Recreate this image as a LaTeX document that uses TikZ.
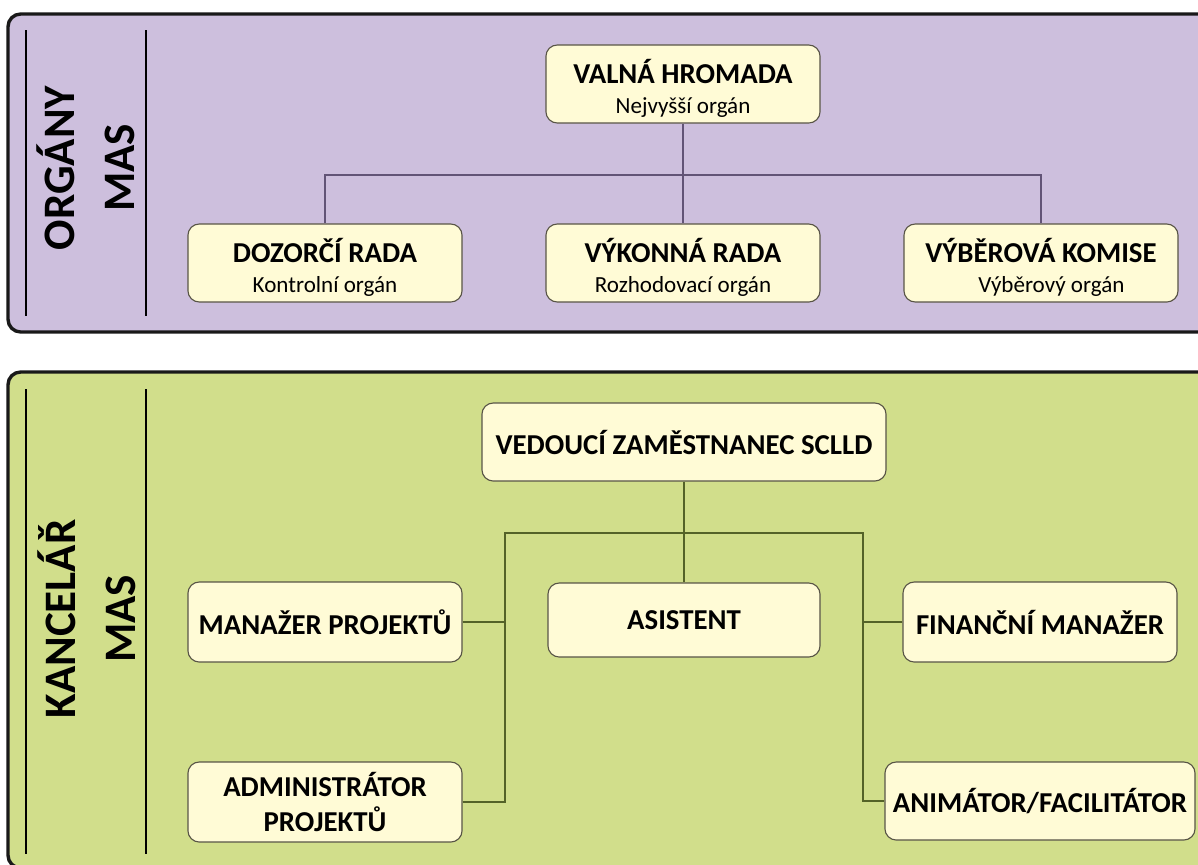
\documentclass[tikz,border=0pt]{standalone}
\usepackage{fontspec}
\setmainfont{Carlito}
\usetikzlibrary{calc}
\definecolor{panelpurple}{RGB}{205,191,221}
\definecolor{panelgreen}{RGB}{209,222,139}
\definecolor{boxcream}{RGB}{255,251,214}
\definecolor{boxline}{RGB}{88,84,70}
\definecolor{purpleline}{RGB}{98,84,118}
\definecolor{greenline}{RGB}{84,98,40}

\begin{document}
\begin{tikzpicture}[x=0.025cm,y=-0.025cm,
    panel/.style={line width=2.4pt,draw=black!90,rounded corners=9pt},
    orgbox/.style={draw=boxline,fill=boxcream,line width=0.8pt,rounded corners=8pt,
      minimum width=6.85cm,minimum height=1.95cm,align=center,inner sep=2pt,
      font=\fontsize{16.4}{21.5}\selectfont},
    side/.style={rotate=90,align=center,font=\fontsize{32}{42.5}\selectfont\bfseries},
    tline/.style={draw=purpleline,line width=1.1pt},
    gline/.style={draw=greenline,line width=1.1pt}]
    \useasboundingbox (0,0) rectangle (1198,864);
    \clip (0,0) rectangle (1198,864);
    \fill[white] (0,0) rectangle (1198,864);
    \newcommand{\hd}[1]{{\fontsize{20.5}{21.5}\selectfont\bfseries #1}}
    \newcommand{\twoline}[2]{\rule{0pt}{23pt}\hd{#1}\\#2}

    \draw[panel,fill=panelpurple] (8,14) rectangle (1225,332);
    \draw[panel,fill=panelgreen] (8,372) rectangle (1225,868);
    \foreach \x in {26,146} {
      \draw[line width=1.6pt] (\x,30) -- (\x,316);
      \draw[line width=1.6pt] (\x,389) -- (\x,854);
    }
    \node[side] (organy) at (86,168) {ORGÁNY\\MAS};
    \node[side] (kancelar) at (87,619) {KANCELÁŘ\\MAS};

    \node[orgbox] (valna) at (683,84) {\twoline{VALNÁ HROMADA}{Nejvyšší orgán}};
    \node[orgbox] (dozorci) at (325,263) {\twoline{DOZORČÍ RADA}{Kontrolní orgán}};
    \node[orgbox] (vykonna) at (683,263) {\twoline{VÝKONNÁ RADA}{Rozhodovací orgán}};
    \node[orgbox] (vyberova) at (1041,263) {\twoline{VÝBĚROVÁ KOMISE}{\hspace*{0.9em}Výběrový orgán}};
    \coordinate (topbus) at (683,175);
    \draw[tline] (valna.south) -- (vykonna.north);
    \draw[tline] (dozorci.north) |- (topbus) -| (vyberova.north);

    \node[orgbox,minimum width=10.1cm] (vedouci) at (684,442) {\hd{VEDOUCÍ ZAMĚSTNANEC SCLLD}};
    \node[orgbox,minimum width=6.8cm,minimum height=1.85cm] (asistent) at (684,620) {\hd{ASISTENT}};
    \node[orgbox,minimum height=2cm] (manazer) at (325,622) {\hd{MANAŽER PROJEKTŮ}};
    \node[orgbox,minimum height=2cm] (admin) at (325,802) {\hd{ADMINISTRÁTOR}\\[4pt]\hd{PROJEKTŮ}};
    \node[orgbox,minimum height=2cm] (financni) at (1040,622) {\hd{FINANČNÍ MANAŽER}};
    \node[orgbox,minimum width=7.75cm] (animator) at (1040,801) {\hd{ANIMÁTOR/FACILITÁTOR}};
    \coordinate (lbus) at (505,533);
    \coordinate (rbus) at (863,533);
    \draw[gline] (vedouci.south) -- (asistent.north);
    \draw[gline] (admin.east) -| (lbus) -- (rbus) |- (animator.west);
    \draw[gline] (manazer.east) -- (manazer.east -| lbus);
    \draw[gline] (financni.west) -- (financni.west -| rbus);
\end{tikzpicture}
\end{document}
